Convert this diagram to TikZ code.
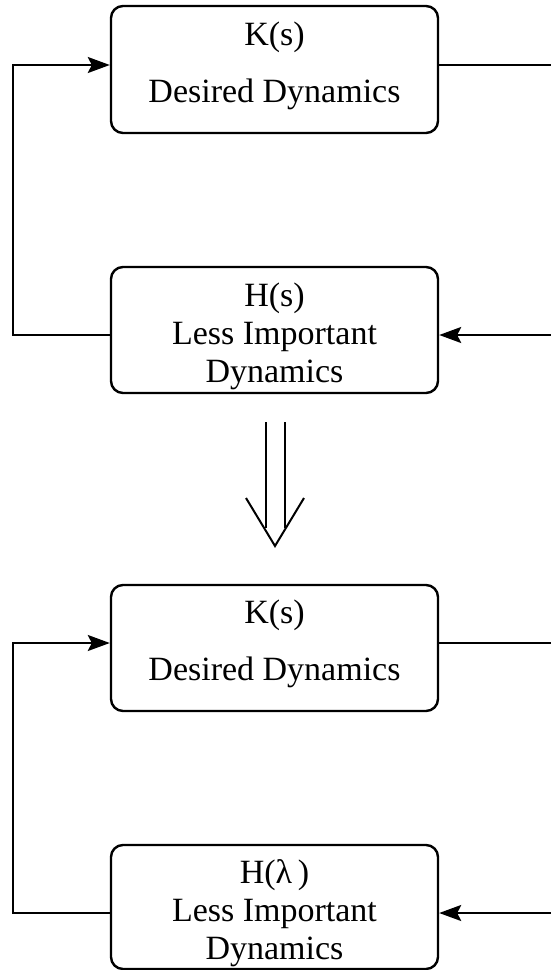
\documentclass[tikz,border=0pt]{standalone}
\usepackage{fontspec}
\setmainfont{Liberation Serif}
\usepackage{tikz}
\usetikzlibrary{arrows.meta, positioning}
\newcommand{\topstrut}{\rule{0pt}{37pt}}
\newcommand{\botstrut}{\rule[-15pt]{0pt}{15pt}}
\tikzset{
    dynblock/.style={
        rectangle, rounded corners=12pt, draw=black, fill=white,
        minimum width=327pt, minimum height=#1,
        font=\fontsize{34}{38}\selectfont, align=center,
        line width=2.4pt, inner sep=0pt
    },
    dynblock/.default=126pt,
    sigline/.style={
        line width=2pt, color=black
    },
    sigarrow/.style={
        -{Stealth[length=22pt, width=16pt, inset=4pt]}, line width=2pt, color=black
    },
    implarrow/.style={
        line width=2pt, color=black, line join=miter
    },
}
\begin{document}
\begin{tikzpicture}[x=1pt, y=-1pt]
    \useasboundingbox (0,0) rectangle (551,970);

    % original loop
    \node[dynblock=127pt] (kbox) at (274.5,69.5) {K(s)\\[19pt]Desired Dynamics\botstrut};
    \node[dynblock] (hbox) at (274.5,330) {\topstrut H(s)\\Less Important\\Dynamics};

    \draw[sigarrow] ([yshift=-5pt]hbox.west) -- ++(-97pt,0) |- ([yshift=4.5pt]kbox.west);
    \draw[sigline] ([yshift=4.5pt]kbox.east) -- ++(115pt,0);
    \draw[sigarrow] ([xshift=115pt, yshift=-5pt]hbox.east) -- ([yshift=-5pt]hbox.east);

    % implication arrow
    \draw[implarrow] (266,422) -- (266,528);
    \draw[implarrow] (285,422) -- (285,528);
    \draw[implarrow] (246,498) -- (275,546) -- (304,498);

    % transformed loop
    \node[dynblock] (kboxb) at (274.5,648) {K(s)\\[19pt]Desired Dynamics\botstrut};
    \node[dynblock=124pt] (hboxb) at (274.5,907) {\topstrut H(λ\,)\\Less Important\\Dynamics};

    \draw[sigarrow] ([yshift=-6pt]hboxb.west) -- ++(-97pt,0) |- ([yshift=5pt]kboxb.west);
    \draw[sigline] ([yshift=5pt]kboxb.east) -- ++(115pt,0);
    \draw[sigarrow] ([xshift=115pt, yshift=-6pt]hboxb.east) -- ([yshift=-6pt]hboxb.east);
\end{tikzpicture}
\end{document}
